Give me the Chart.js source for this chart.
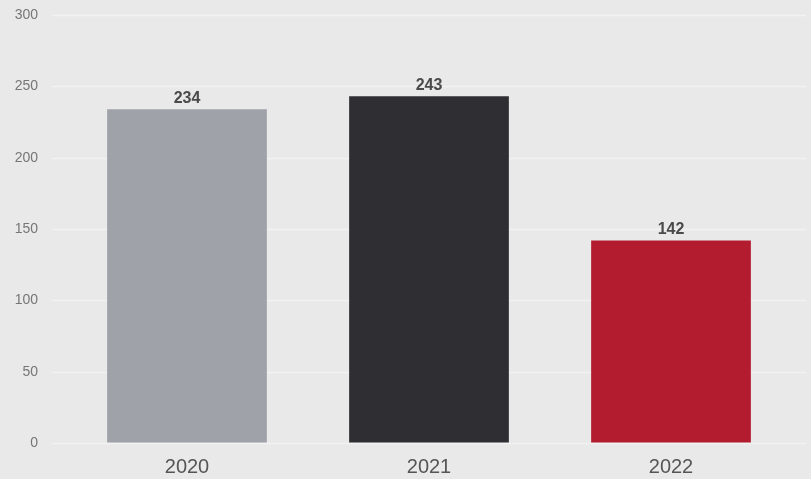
<!DOCTYPE html>
<html>
<head>
<meta charset="utf-8">
<script src="https://cdn.jsdelivr.net/npm/chart.js@4/dist/chart.umd.min.js"></script>
<style>
  html, body { margin: 0; padding: 0; background: #e9e9e9; }
  #wrap { width: 811px; height: 479px; }
</style>
</head>
<body>
<div id="wrap"><canvas id="chart"></canvas></div>
<script>
  const years = ['2020', '2021', '2022'];
  const counts = [234, 243, 142];
  const barColors = ['#a0a2aa', '#2f2f33', '#b31c2e'];
  const yTicks = [0, 50, 100, 150, 200, 250, 300];

  // horizontal grid lines, running a bit past the plot area on both sides
  const wideGrid = {
    id: 'wideGrid',
    beforeDatasetsDraw(chart) {
      const { ctx, scales: { y } } = chart;
      ctx.save();
      ctx.strokeStyle = '#f2f2f2';
      ctx.lineWidth = 1.5;
      yTicks.forEach(v => {
        const py = Math.round(y.getPixelForValue(v)) + 0.5;
        ctx.beginPath();
        ctx.moveTo(52, py);
        ctx.lineTo(806, py);
        ctx.stroke();
      });
      ctx.restore();
    }
  };

  // value written on top of each bar
  const barValues = {
    id: 'barValues',
    afterDatasetsDraw(chart) {
      const { ctx } = chart;
      const meta = chart.getDatasetMeta(0);
      ctx.save();
      ctx.font = 'bold 16px "Liberation Sans", Arial, sans-serif';
      ctx.fillStyle = '#4a4a4a';
      ctx.textAlign = 'center';
      ctx.textBaseline = 'bottom';
      meta.data.forEach((bar, i) => {
        ctx.fillText(counts[i], bar.x, bar.y - 3);
      });
      ctx.restore();
    }
  };

  new Chart(document.getElementById('chart').getContext('2d'), {
    type: 'bar',
    data: {
      labels: years,
      datasets: [{
        data: counts,
        backgroundColor: barColors,
        borderWidth: 0,
        categoryPercentage: 1,
        barPercentage: 0.66
      }]
    },
    options: {
      responsive: true,
      maintainAspectRatio: false,
      animation: false,
      layout: { padding: { top: 15, right: 19, left: 0, bottom: 0 } },
      plugins: { legend: { display: false }, tooltip: { enabled: false } },
      scales: {
        x: {
          grid: { display: false },
          border: { display: false },
          ticks: {
            color: '#555',
            padding: 4,
            font: { family: '"Liberation Sans", Arial, sans-serif', size: 20 }
          },
          afterFit(scale) { scale.height = 36; }
        },
        y: {
          min: 0,
          max: 300,
          // invisible tick marks just keep the labels away from the bars
          grid: { color: 'rgba(0,0,0,0)', drawOnChartArea: false, drawTicks: true, tickLength: 28 },
          border: { display: false },
          afterBuildTicks(scale) { scale.ticks = yTicks.map(v => ({ value: v })); },
          ticks: {
            color: '#767676',
            padding: 0,
            font: { family: '"Liberation Sans", Arial, sans-serif', size: 14 }
          },
          afterFit(scale) { scale.width = 66; }
        }
      }
    },
    plugins: [wideGrid, barValues]
  });
</script>
</body>
</html>
